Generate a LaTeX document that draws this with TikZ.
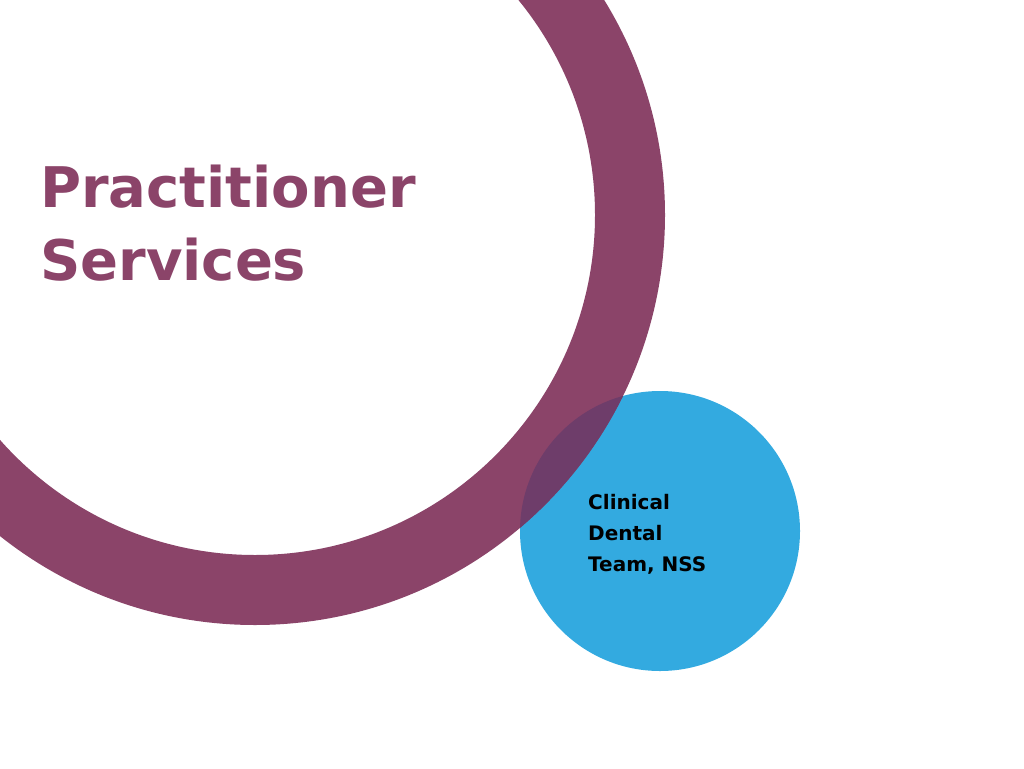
\documentclass[tikz,border=0pt]{standalone}
\usepackage{fontspec}
\setmainfont{DejaVu Sans}
\definecolor{ringc}{HTML}{8B4469}
\definecolor{bluec}{HTML}{33AAE0}
\definecolor{overc}{HTML}{6E3D6A}
\begin{document}
\begin{tikzpicture}[x=1pt,y=-1pt]
\useasboundingbox (0,0) rectangle (1024,768);
\clip (0,0) rectangle (1024,768);
\fill[bluec] (660,531) circle (140);
\fill[ringc,even odd rule] (255,215) circle (410) (255,215) circle (340);
\begin{scope}
\clip (660,531) circle (140);
\fill[overc,even odd rule] (255,215) circle (410) (255,215) circle (340);
\end{scope}
\node[anchor=base west,inner sep=0,text=ringc,font=\bfseries\fontsize{56}{73}\selectfont,align=left] (title) at (40,280) {Practitioner\\Services};
\node[anchor=base west,inner sep=0,font=\bfseries\fontsize{20}{31}\selectfont,align=left] (team) at (588,571) {Clinical\\Dental\\Team, NSS};
\end{tikzpicture}
\end{document}
